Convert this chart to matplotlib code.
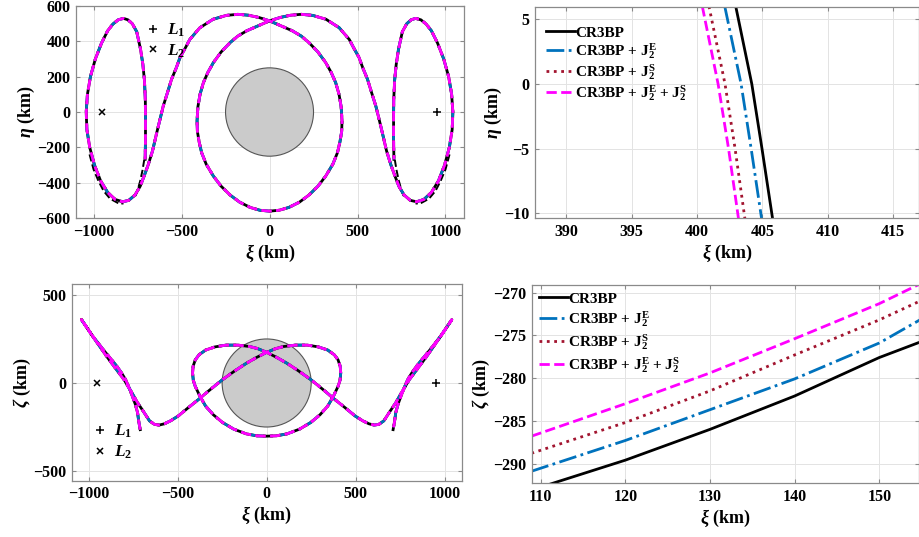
import numpy as np
import matplotlib
matplotlib.use('Agg')
import matplotlib.pyplot as plt
from matplotlib.patches import Circle

plt.rcParams['font.family'] = 'Liberation Serif'
plt.rcParams['font.weight'] = 'bold'
plt.rcParams['axes.labelweight'] = 'bold'
plt.rcParams['mathtext.fontset'] = 'custom'
plt.rcParams['mathtext.rm'] = 'Liberation Serif:bold'
plt.rcParams['mathtext.bf'] = 'Liberation Serif:bold'
plt.rcParams['mathtext.it'] = 'Liberation Serif:italic:bold'

# ---- data (km) ----
moon_r = 250
L1_xi = 950
L2_xi = -950

# orbit projected on xi-eta plane
orb_xi = [-707, -705, -705, -706, -711, -720, -733, -755, -780, -805, -830, -860, -890, -920, -955,
          -990, -1018, -1035, -1042, -1038, -1022, -995, -960, -920, -877, -835, -800, -765, -735,
          -712, -690, -665, -641, -620, -604, -580, -557, -530, -509, -480, -453, -396, -321, -245,
          -180, -120, -60, 0,
          60, 129, 180, 224, 275, 319, 350, 376, 395, 407, 412, 410, 400, 386, 360, 319, 275, 224,
          170, 110, 55, 0,
          -55, -110, -170, -224, -275, -319, -360, -386, -400, -410, -412, -407, -395, -376, -350,
          -319, -275, -224, -180, -129, -60, 0,
          60, 120, 180, 245, 321, 396, 453, 480, 509, 530, 557, 580, 604, 620, 641, 665, 690, 712,
          735, 765, 800, 835, 877, 920, 960, 995, 1022, 1038, 1042, 1035, 1018, 990, 955, 920, 890,
          860, 830, 805, 780, 755, 733, 720, 711, 706, 705, 705, 707]
orb_eta = [-268, -150, -30, 72, 180, 270, 355, 455, 500, 522, 530, 522, 498, 460, 390,
           300, 200, 100, 0, -100, -200, -300, -390, -455, -495, -508, -500, -470, -420,
           -360, -300, -220, -117, -30, 34, 110, 185, 250, 308, 360, 411, 477, 525, 547,
           553, 548, 535, 516,
           490, 460, 430, 393, 340, 280, 225, 166, 100, 30, -50, -110, -170, -230, -295, -363, -420, -470,
           -510, -540, -556, -561,
           -556, -540, -510, -470, -420, -363, -295, -230, -170, -110, -50, 30, 100, 166, 225,
           280, 340, 393, 430, 460, 490, 516,
           535, 548, 553, 547, 525, 477, 411, 360, 308, 250, 185, 110, 34, -30, -117, -220, -300, -360,
           -420, -470, -500, -508, -495, -455, -390, -300, -200, -100, 0, 100, 200, 300, 390, 460, 498,
           522, 530, 522, 500, 455, 355, 270, 180, 72, -30, -150, -268]

# CR3BP branches that leave the common path near the lobe bottoms
dev_in_xi = [-712, -722, -735, -752, -762]
dev_in_eta = [-270, -330, -390, -450, -475]
dev_out_xi = [-1023, -1000, -972, -943, -906, -858, -830]
dev_out_eta = [-240, -325, -391, -447, -491, -517, -518]
dev_in_xi_r = [712, 722, 735, 752, 762]
dev_out_xi_r = [1023, 1000, 972, 943, 906, 858, 830]

# orbit projected on xi-zeta plane
orbz_xi = [-710, -718, -725, -738, -754, -772, -792, -815, -840, -875, -916, -980, -1040,
           -970, -897, -850, -801, -760, -725, -690, -658, -630, -604, -575, -540, -496, -440,
           -382, -320, -248, -180, -114, -55, 0,
           50, 95, 160, 229, 290, 343, 380, 401, 413, 416, 412, 401, 375, 343, 300, 248, 185,
           114, 55, 0,
           -55, -114, -185, -248, -300, -343, -375, -401, -412, -416, -413, -401, -380, -343,
           -290, -229, -160, -95, -50, 0,
           55, 114, 180, 248, 320, 382, 440, 496, 540, 575, 604, 630, 658, 690, 725, 760, 801,
           850, 897, 970, 1040,
           980, 916, 875, 840, 815, 792, 772, 754, 738, 725, 718, 710]
orbz_zeta = [-265, -220, -168, -120, -75, -28, 19, 57, 93, 137, 187, 270, 360,
             255, 149, 85, 19, -50, -112, -165, -215, -235, -239, -232, -215, -187, -140,
             -93, -40, 19, 68, 112, 146, 174,
             195, 207, 215, 215, 205, 187, 160, 131, 95, 56, 15, -19, -75, -131, -180, -224, -262,
             -289, -300, -302,
             -300, -289, -262, -224, -180, -131, -75, -19, 15, 56, 95, 131, 160, 187,
             205, 215, 215, 207, 195, 174,
             146, 112, 68, 19, -40, -93, -140, -187, -215, -232, -239, -235, -215, -165, -112, -50, 19,
             85, 149, 255, 360,
             270, 187, 137, 93, 57, 19, -28, -75, -120, -168, -220, -265]

# zoom on xi-eta near the right side of the inner loop
zeta_pts = [6.0, 0, -5, -10.4]
xi_cr3bp = [402.97, 404.2, 404.98, 405.79]
xi_j2e = [402.13, 403.38, 404.15, 404.95]
xi_j2s = [400.92, 402.15, 402.92, 403.67]
xi_j2es = [400.41, 401.62, 402.42, 403.18]

# zoom on xi-zeta near the bottom of the inner loop
xz_pts = [108.9, 120, 130, 140, 150, 154.8]
z_cr3bp = [-293.1, -289.6, -286.0, -282.1, -277.6, -275.8]
z_j2e = [-290.9, -287.3, -283.7, -280.1, -275.9, -273.2]
z_j2s = [-288.8, -285.2, -281.5, -277.3, -273.2, -271.0]
z_j2es = [-286.8, -283.0, -279.4, -275.4, -271.3, -269.0]

labels = ['CR3BP', r'CR3BP + $\mathrm{J}_2^\mathrm{E}$', r'CR3BP + $\mathrm{J}_2^\mathrm{S}$',
          r'CR3BP + $\mathrm{J}_2^\mathrm{E}$ + $\mathrm{J}_2^\mathrm{S}$']
styles = [dict(color='k', ls='-'),
          dict(color='#0072BD', ls='-.'),
          dict(color='#A2142F', ls=':'),
          dict(color='#FF00FF', ls='--')]


def style_ax(ax):
    ax.grid(True, color='#e3e3e3', lw=0.7)
    ax.set_axisbelow(True)
    for s in ax.spines.values():
        s.set_color('#8a8a8a')
        s.set_linewidth(0.9)
    ax.tick_params(direction='in', length=3, color='#8a8a8a', labelsize=11.5,
                   top=True, right=True, pad=4)
    for t in ax.get_xticklabels() + ax.get_yticklabels():
        t.set_fontweight('bold')


fig = plt.figure(figsize=(9.2, 5.37), dpi=100)

# top left
ax1 = fig.add_axes([0.0826, 0.594, 0.4217, 0.3948])
ax1.add_patch(Circle((0, 0), moon_r, facecolor='#cbcbcb', edgecolor='#555555', lw=0.8, zorder=1))
for st in styles:
    ax1.plot(orb_xi, orb_eta, lw=2, zorder=3, **st)
ax1.plot(dev_in_xi, dev_in_eta, 'k--', lw=1.4, zorder=2)
ax1.plot(dev_out_xi, dev_out_eta, 'k--', lw=1.4, zorder=2)
ax1.plot(dev_in_xi_r, dev_in_eta, 'k--', lw=1.4, zorder=2)
ax1.plot(dev_out_xi_r, dev_out_eta, 'k--', lw=1.4, zorder=2)
h1, = ax1.plot(L1_xi, 0, '+', color='k', ms=6, mew=1.1)
h2, = ax1.plot(L2_xi, 0, 'x', color='k', ms=4.5, mew=1.1)
ax1.legend([h1, h2], [r'$L_{\mathit{1}}$', r'$L_{\mathit{2}}$'], loc='upper left',
           bbox_to_anchor=(0.14, 1.0), frameon=False, handlelength=0.8, handletextpad=0.4,
           fontsize=12.5, labelspacing=0.2)
ax1.set_xlim(-1100, 1105)
ax1.set_ylim(-600, 600)
ax1.set_xticks([-1000, -500, 0, 500, 1000])
ax1.set_yticks([-600, -400, -200, 0, 200, 400, 600])
ax1.set_xlabel(r'$\xi$ (km)', fontsize=13, labelpad=2)
ax1.set_ylabel(r'$\eta$ (km)', fontsize=13, labelpad=0)
style_ax(ax1)

# top right
ax2 = fig.add_axes([0.5815, 0.594, 0.4174, 0.393])
for st, xs, lab in zip(styles, [xi_cr3bp, xi_j2e, xi_j2s, xi_j2es], labels):
    ax2.plot(xs, zeta_pts, lw=2, label=lab, **st)
ax2.legend(loc='upper left', bbox_to_anchor=(0.0, 0.96), frameon=False, fontsize=11,
           handlelength=1.9, handletextpad=0.05, labelspacing=0.08, borderaxespad=0.3)
ax2.set_xlim(387.6, 417)
ax2.set_ylim(-10.36, 5.95)
ax2.set_xticks([390, 395, 400, 405, 410, 415])
ax2.set_yticks([-10, -5, 0, 5])
ax2.set_xlabel(r'$\xi$ (km)', fontsize=13, labelpad=2)
ax2.set_ylabel(r'$\eta$ (km)', fontsize=13, labelpad=0)
style_ax(ax2)

# bottom left
ax3 = fig.add_axes([0.0779, 0.1048, 0.4239, 0.3663])
ax3.add_patch(Circle((0, 0), moon_r, facecolor='#cbcbcb', edgecolor='#555555', lw=0.8, zorder=1))
for st in styles:
    ax3.plot(orbz_xi, orbz_zeta, lw=2, zorder=3, **st)
h1, = ax3.plot(L1_xi, 0, '+', color='k', ms=6, mew=1.1)
h2, = ax3.plot(L2_xi, 0, 'x', color='k', ms=4.5, mew=1.1)
ax3.legend([h1, h2], [r'$L_{\mathit{1}}$', r'$L_{\mathit{2}}$'], loc='lower left',
           bbox_to_anchor=(0.015, 0.02), frameon=False, handlelength=0.8, handletextpad=0.4,
           fontsize=12.5, labelspacing=0.2)
ax3.set_xlim(-1095, 1095)
ax3.set_ylim(-555, 562)
ax3.set_xticks([-1000, -500, 0, 500, 1000])
ax3.set_yticks([-500, 0, 500])
ax3.set_xlabel(r'$\xi$ (km)', fontsize=13, labelpad=2)
ax3.set_ylabel(r'$\zeta$ (km)', fontsize=13, labelpad=0)
style_ax(ax3)

# bottom right
ax4 = fig.add_axes([0.578, 0.1006, 0.421, 0.3682])
for st, zs, lab in zip(styles, [z_cr3bp, z_j2e, z_j2s, z_j2es], labels):
    ax4.plot(xz_pts, zs, lw=2, label=lab, **st)
ax4.legend(loc='upper left', frameon=False, fontsize=11, handlelength=1.9,
           handletextpad=0.05, labelspacing=0.2, borderaxespad=0.05)
ax4.set_xlim(108.94, 154.7)
ax4.set_ylim(-292.27, -269.15)
ax4.set_xticks([110, 120, 130, 140, 150])
ax4.set_yticks([-290, -285, -280, -275, -270])
ax4.set_xlabel(r'$\xi$ (km)', fontsize=13, labelpad=2)
ax4.set_ylabel(r'$\zeta$ (km)', fontsize=13, labelpad=1)
style_ax(ax4)

fig.savefig('out.png', dpi=100)
